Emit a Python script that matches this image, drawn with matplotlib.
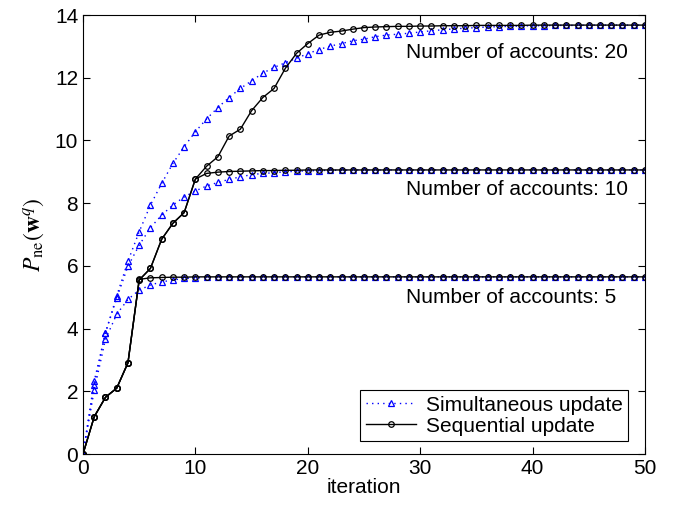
import numpy as np
import matplotlib.pyplot as plt

plt.rcParams['font.family'] = ['Liberation Sans', 'DejaVu Sans']
plt.rcParams['mathtext.fontset'] = 'stix'

# iterations 0..50
iters = np.arange(51)

# simultaneous update (blue dotted, triangles)
sim_5 = [0, 2.04, 3.66, 4.46, 4.93, 5.23, 5.39, 5.49, 5.55, 5.60, 5.62, 5.63, 5.64, 5.64] + [5.65] * 37
sim_10 = [0, 2.20, 3.87, 4.97, 5.99, 6.66, 7.22, 7.62, 7.94, 8.20, 8.39, 8.55, 8.66, 8.76,
          8.84, 8.91, 8.95, 8.97, 9.00, 9.02, 9.03, 9.04, 9.05, 9.05] + [9.06] * 27
sim_20 = [0, 2.33, 3.87, 5.04, 6.15, 7.09, 7.94, 8.63, 9.27, 9.80, 10.28, 10.69, 11.05, 11.37,
          11.66, 11.90, 12.15, 12.33, 12.48, 12.62, 12.77, 12.90, 13.01, 13.09, 13.18, 13.23,
          13.31, 13.36, 13.39, 13.42, 13.46, 13.50, 13.53, 13.56, 13.58, 13.60, 13.62, 13.63,
          13.64, 13.65, 13.66, 13.66, 13.67, 13.67, 13.67, 13.68, 13.68, 13.68, 13.68, 13.68, 13.68]

# sequential update (black solid, circles)
seq_5 = [0, 1.19, 1.81, 2.10, 2.91, 5.57, 5.62, 5.63, 5.64, 5.64] + [5.65] * 41
seq_10 = [0, 1.19, 1.81, 2.10, 2.91, 5.55, 5.92, 6.85, 7.36, 7.70, 8.77, 8.95, 8.99, 9.01,
          9.02, 9.03, 9.04, 9.04, 9.05, 9.05] + [9.06] * 31
seq_20 = [0, 1.19, 1.81, 2.10, 2.91, 5.55, 5.92, 6.85, 7.36, 7.70, 8.77, 9.18, 9.48, 10.14,
          10.36, 10.95, 11.37, 11.66, 12.30, 12.78, 13.09, 13.36, 13.45, 13.49, 13.55, 13.60,
          13.62, 13.63, 13.64, 13.64, 13.65, 13.65, 13.66, 13.66, 13.66, 13.67, 13.67, 13.67,
          13.67, 13.67, 13.68, 13.68, 13.68, 13.68, 13.68, 13.68, 13.68, 13.68, 13.68, 13.68, 13.68]

labels = ['Number of accounts: 20', 'Number of accounts: 10', 'Number of accounts: 5']
label_y = [12.82, 8.45, 5.0]

fig = plt.figure(figsize=(6.82, 5.14), dpi=100)
ax = fig.add_axes([0.1217, 0.1167, 0.824, 0.854])

sim_style = dict(color='blue', linestyle=(0, (1, 3)), linewidth=1, marker='^', markersize=5,
                 markerfacecolor='none', markeredgewidth=0.9)
seq_style = dict(color='black', linestyle='-', linewidth=1, marker='o', markersize=4,
                 markerfacecolor='none', markeredgewidth=0.9)

for i, s in enumerate([sim_5, sim_10, sim_20]):
    ax.plot(iters, s, label='Simultaneous update' if i == 0 else None, **sim_style)
for i, s in enumerate([seq_5, seq_10, seq_20]):
    ax.plot(iters, s, label='Sequential update' if i == 0 else None, **seq_style)

for txt, y in zip(labels, label_y):
    ax.text(28.7, y, txt, fontsize=15, va='center', ha='left')

ax.set_xlim(0, 50)
ax.set_ylim(0, 14)
ax.set_xticks(range(0, 51, 10))
ax.set_yticks(range(0, 15, 2))
ax.tick_params(direction='in', top=True, right=True, labelsize=15, length=5)
ax.set_xlabel('iteration', fontsize=15, labelpad=0)
ax.set_ylabel(r'$P_{\mathrm{ne}}(\mathbf{w}^q)$', fontsize=17, labelpad=6)

leg = ax.legend(loc='lower right', bbox_to_anchor=(0.97, 0.03), borderaxespad=0,
                fontsize=15, fancybox=False, edgecolor='black', framealpha=1,
                borderpad=0.25, handlelength=2.4, labelspacing=0.1, handletextpad=0.5)
leg.get_frame().set_linewidth(0.8)

plt.savefig('out.png', dpi=100)
